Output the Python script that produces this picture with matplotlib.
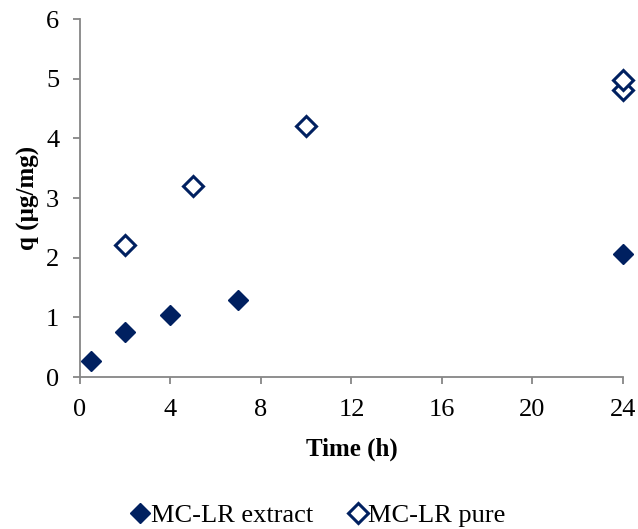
import matplotlib
matplotlib.use("Agg")
import matplotlib.pyplot as plt

# adsorption data, q in ug/mg vs contact time
t_extract = [0.5, 2, 4, 7, 24]
q_extract = [0.27, 0.75, 1.04, 1.29, 2.07]
t_pure = [2, 5, 10, 24, 24]
q_pure = [2.21, 3.21, 4.20, 4.81, 4.97]

navy = "#002060"
axcol = "#868686"

plt.rcParams["font.family"] = ["Liberation Serif", "DejaVu Serif"]

fig = plt.figure(figsize=(6.38, 5.29), dpi=100)
ax = fig.add_axes([0.1254, 0.2873, 0.851, 0.6767])

ax.plot(t_extract, q_extract, linestyle="none", marker="D", markersize=10,
        color=navy, label="MC-LR extract")
ax.plot(t_pure, q_pure, linestyle="none", marker="D", markersize=10,
        markerfacecolor="white", markeredgecolor=navy, markeredgewidth=2.2,
        label="MC-LR pure")

ax.set_xlim(0, 24)
ax.set_ylim(0, 6)
ax.set_xticks(range(0, 25, 4))
ax.set_yticks(range(0, 7))
for s in ["top", "right"]:
    ax.spines[s].set_visible(False)
for s in ["left", "bottom"]:
    ax.spines[s].set_color(axcol)
    ax.spines[s].set_linewidth(1.3)
ax.tick_params(colors=axcol, labelcolor="black", labelsize=19, length=5, width=1.3)
ax.tick_params(axis="x", pad=11)
ax.tick_params(axis="y", pad=10)

ax.set_xlabel("Time (h)", fontsize=18, fontweight="bold", labelpad=12)
ax.set_ylabel("q (µg/mg)", fontsize=18, fontweight="bold", labelpad=4)

for ln in ax.lines:
    ln.set_clip_on(False)

fig.legend(loc="lower center", bbox_to_anchor=(0.5, -0.041), ncol=2, frameon=False,
           fontsize=19, handlelength=0.6, handletextpad=0.1, columnspacing=1.4,
           markerscale=1.0)

fig.savefig("out.png", dpi=100)
